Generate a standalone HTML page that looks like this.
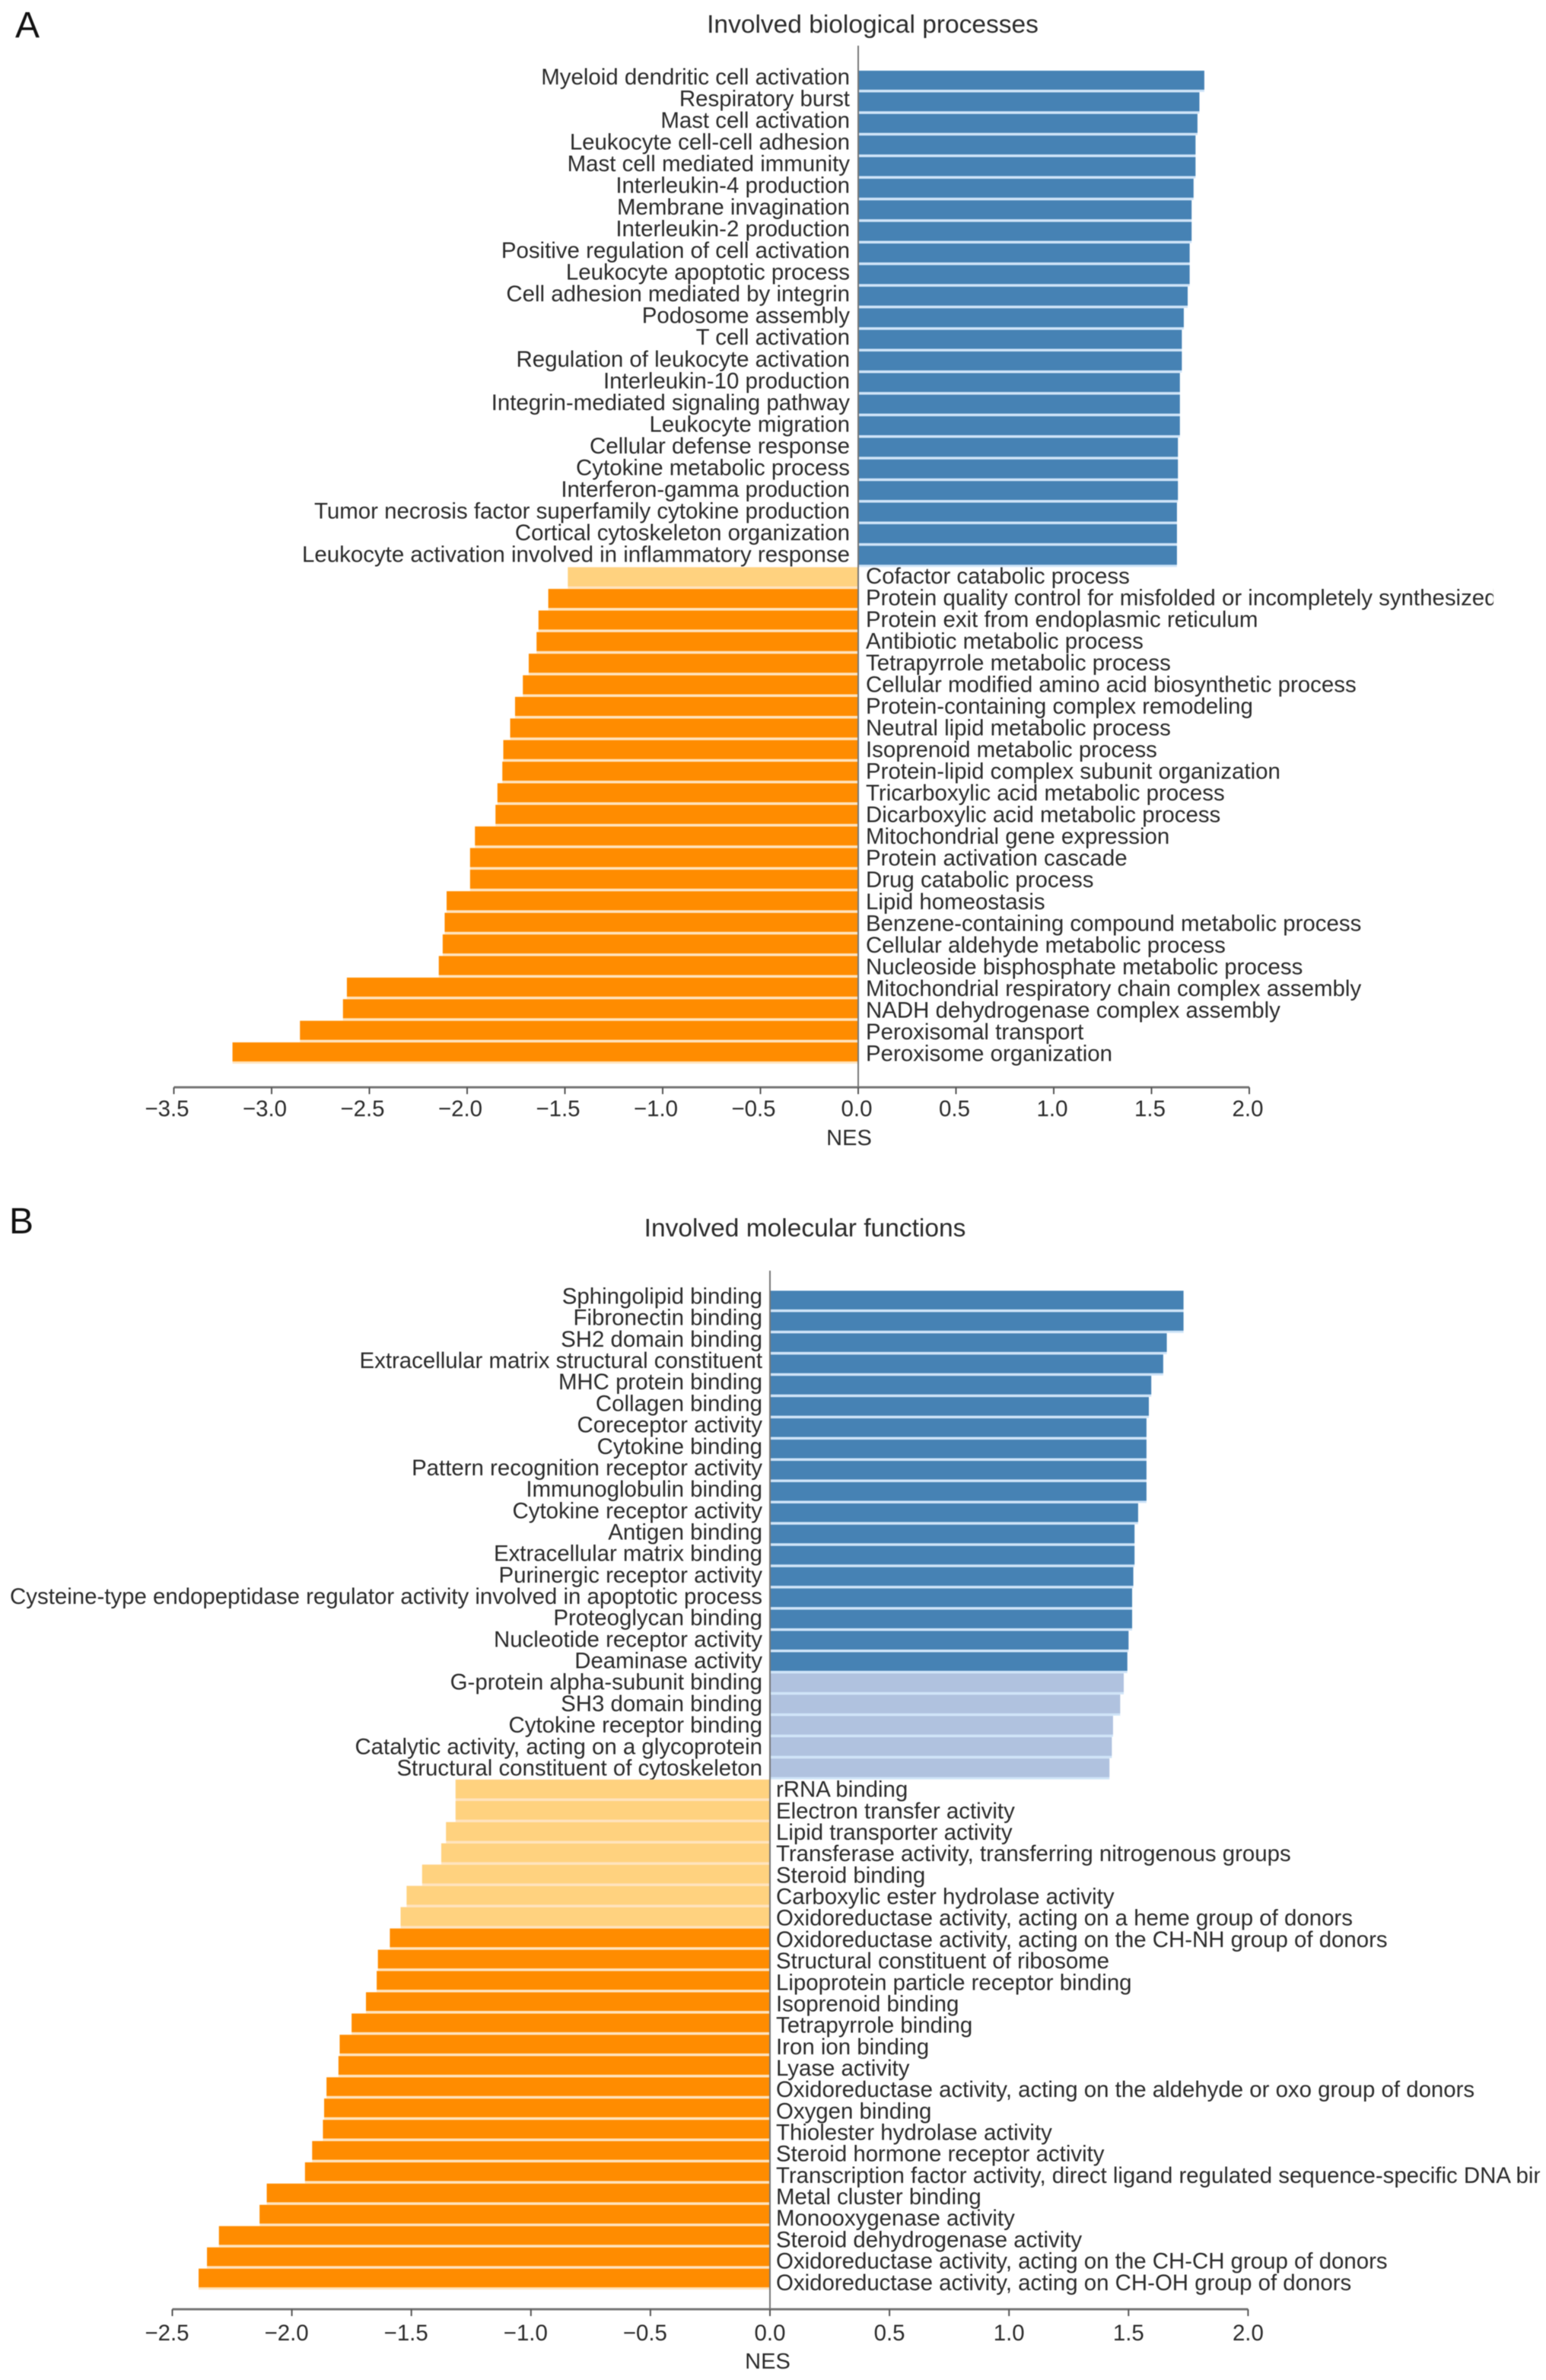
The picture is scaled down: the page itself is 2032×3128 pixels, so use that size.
<!DOCTYPE html>
<html lang="en">
<head>
<meta charset="utf-8">
<title>Involved biological processes and molecular functions</title>
<style>
html,body{margin:0;padding:0;background:#fff;width:2032px;height:3128px;overflow:hidden}
svg{display:block;filter:blur(0.6px)}
text{font-family:"Liberation Sans",Arial,sans-serif;fill:#2b2b2b}
</style>
</head>
<body>
<svg id="figure" xmlns="http://www.w3.org/2000/svg" width="2032" height="3128" viewBox="0 0 2032 3128">
<defs>
<clipPath id="clip-a"><rect x="0" y="0" width="1963" height="1560"/></clipPath>
<clipPath id="clip-b"><rect x="0" y="1560" width="2024" height="1568"/></clipPath>
</defs>
<rect width="2032" height="3128" fill="#fff"/>
<text x="20" y="49" font-size="48" style="fill:#111">A</text>
<text x="12" y="1621" font-size="48" style="fill:#111">B</text>
<text x="1147" y="43" font-size="33.5" text-anchor="middle">Involved biological processes</text>
<text x="1058" y="1625" font-size="33.5" text-anchor="middle">Involved molecular functions</text>
<text x="1116" y="1505" font-size="29" text-anchor="middle">NES</text>
<text x="1009" y="3113" font-size="29" text-anchor="middle">NES</text>
<g id="panel-a" clip-path="url(#clip-a)"></g>
<g id="panel-b" clip-path="url(#clip-b)"></g>
</svg>
<script>
const categoriesA = ["Myeloid dendritic cell activation","Respiratory burst","Mast cell activation","Leukocyte cell-cell adhesion","Mast cell mediated immunity","Interleukin-4 production","Membrane invagination","Interleukin-2 production","Positive regulation of cell activation","Leukocyte apoptotic process","Cell adhesion mediated by integrin","Podosome assembly","T cell activation","Regulation of leukocyte activation","Interleukin-10 production","Integrin-mediated signaling pathway","Leukocyte migration","Cellular defense response","Cytokine metabolic process","Interferon-gamma production","Tumor necrosis factor superfamily cytokine production","Cortical cytoskeleton organization","Leukocyte activation involved in inflammatory response","Cofactor catabolic process","Protein quality control for misfolded or incompletely synthesized protein","Protein exit from endoplasmic reticulum","Antibiotic metabolic process","Tetrapyrrole metabolic process","Cellular modified amino acid biosynthetic process","Protein-containing complex remodeling","Neutral lipid metabolic process","Isoprenoid metabolic process","Protein-lipid complex subunit organization","Tricarboxylic acid metabolic process","Dicarboxylic acid metabolic process","Mitochondrial gene expression","Protein activation cascade","Drug catabolic process","Lipid homeostasis","Benzene-containing compound metabolic process","Cellular aldehyde metabolic process","Nucleoside bisphosphate metabolic process","Mitochondrial respiratory chain complex assembly","NADH dehydrogenase complex assembly","Peroxisomal transport","Peroxisome organization"];
const valuesA = [1.77,1.745,1.735,1.725,1.725,1.715,1.705,1.705,1.695,1.695,1.685,1.665,1.655,1.655,1.645,1.645,1.645,1.635,1.635,1.635,1.63,1.63,1.63,-1.485,-1.585,-1.635,-1.645,-1.685,-1.715,-1.755,-1.78,-1.815,-1.82,-1.845,-1.855,-1.96,-1.985,-1.985,-2.105,-2.115,-2.125,-2.145,-2.615,-2.635,-2.855,-3.20];
const fadedA = [0,0,0,0,0,0,0,0,0,0,0,0,0,0,0,0,0,0,0,0,0,0,0,1,0,0,0,0,0,0,0,0,0,0,0,0,0,0,0,0,0,0,0,0,0,0];
const ticksA = [-3.5,-3,-2.5,-2,-1.5,-1,-0.5,0,0.5,1,1.5,2];

const categoriesB = ["Sphingolipid binding","Fibronectin binding","SH2 domain binding","Extracellular matrix structural constituent","MHC protein binding","Collagen binding","Coreceptor activity","Cytokine binding","Pattern recognition receptor activity","Immunoglobulin binding","Cytokine receptor activity","Antigen binding","Extracellular matrix binding","Purinergic receptor activity","Cysteine-type endopeptidase regulator activity involved in apoptotic process","Proteoglycan binding","Nucleotide receptor activity","Deaminase activity","G-protein alpha-subunit binding","SH3 domain binding","Cytokine receptor binding","Catalytic activity, acting on a glycoprotein","Structural constituent of cytoskeleton","rRNA binding","Electron transfer activity","Lipid transporter activity","Transferase activity, transferring nitrogenous groups","Steroid binding","Carboxylic ester hydrolase activity","Oxidoreductase activity, acting on a heme group of donors","Oxidoreductase activity, acting on the CH-NH group of donors","Structural constituent of ribosome","Lipoprotein particle receptor binding","Isoprenoid binding","Tetrapyrrole binding","Iron ion binding","Lyase activity","Oxidoreductase activity, acting on the aldehyde or oxo group of donors","Oxygen binding","Thiolester hydrolase activity","Steroid hormone receptor activity","Transcription factor activity, direct ligand regulated sequence-specific DNA binding","Metal cluster binding","Monooxygenase activity","Steroid dehydrogenase activity","Oxidoreductase activity, acting on the CH-CH group of donors","Oxidoreductase activity, acting on CH-OH group of donors"];
const valuesB = [1.73,1.73,1.66,1.645,1.595,1.585,1.575,1.575,1.575,1.575,1.54,1.525,1.525,1.52,1.515,1.515,1.50,1.495,1.48,1.465,1.435,1.43,1.42,-1.315,-1.315,-1.355,-1.375,-1.455,-1.52,-1.545,-1.59,-1.64,-1.645,-1.69,-1.75,-1.80,-1.805,-1.855,-1.865,-1.87,-1.915,-1.945,-2.105,-2.135,-2.305,-2.355,-2.39];
const fadedB = [0,0,0,0,0,0,0,0,0,0,0,0,0,0,0,0,0,0,1,1,1,1,1,1,1,1,1,1,1,1,0,0,0,0,0,0,0,0,0,0,0,0,0,0,0,0,0];
const ticksB = [-2.5,-2,-1.5,-1,-0.5,0,0.5,1,1.5,2];

const SVGNS = "http://www.w3.org/2000/svg";

function make(tag, attrs, parent) {
  const el = document.createElementNS(SVGNS, tag);
  for (const k in attrs) el.setAttribute(k, attrs[k]);
  parent.appendChild(el);
  return el;
}

function barColor(value, faded) {
  if (value >= 0) return faded ? "#b0c2df" : "#4682b4";
  return faded ? "#ffd27f" : "#ff8c00";
}

function gapColor(value) {
  return value >= 0 ? "#cfe4f8" : "#ffe3bd";
}

function drawPanel(groupId, panelKey, categories, values, faded, ticks, cfg) {
  const g = document.getElementById(groupId);
  const xScale = v => cfg.zeroX + v * cfg.pxPerUnit;
  const barY = i => cfg.barTop + i * cfg.barPitch;
  const labelY = i => cfg.labelTop + i * cfg.labelPitch;

  values.forEach((v, i) => {
    const x0 = Math.min(xScale(0), xScale(v));
    const w = Math.abs(xScale(v) - xScale(0));
    const halo = make("rect", {x: x0, y: barY(i), width: w, height: cfg.barPitch, fill: gapColor(v)}, g);
    
    
    const bar = make("rect", {x: x0, y: barY(i) + 0.5, width: w, height: cfg.barPitch - 3.5, fill: barColor(v, faded[i])}, g);
    
    
    const label = make("text", {
      x: v >= 0 ? xScale(0) - cfg.labelGapLeft : xScale(0) + cfg.labelGapRight,
      y: labelY(i),
      "font-size": cfg.labelSize,
      "text-anchor": v >= 0 ? "end" : "start"
    }, g);
    label.textContent = categories[i];
    
    
  });

  const zero = make("line", {x1: xScale(0), x2: xScale(0), y1: cfg.zeroTop, y2: cfg.axisY, stroke: "#777", "stroke-width": 2}, g);
  
  

  const axis = make("line", {x1: xScale(ticks[0]), x2: xScale(ticks[ticks.length - 1]), y1: cfg.axisY, y2: cfg.axisY, stroke: "#777", "stroke-width": 3}, g);
  
  

  ticks.forEach((t, i) => {
    const tick = make("line", {x1: xScale(t), x2: xScale(t), y1: cfg.axisY, y2: cfg.axisY + 9, stroke: "#555", "stroke-width": 2}, g);
    
    
    const tl = make("text", {x: xScale(t) - (t < 0 ? 7 : 0) - cfg.tickShift, y: cfg.tickLabelY, "font-size": cfg.labelSize, "text-anchor": "middle"}, g);
    tl.textContent = (t < 0 ? "\u2212" : "") + Math.abs(t).toFixed(1);
    
    
  });
}

drawPanel("panel-a", "a", categoriesA, valuesA, fadedA, ticksA, {
  zeroX: 1128, pxPerUnit: 257, barTop: 92.5, barPitch: 28.38,
  labelTop: 111, labelPitch: 28.52, labelGapLeft: 11, labelGapRight: 10, labelSize: 29.45,
  zeroTop: 60, axisY: 1429, tickLabelY: 1467, tickShift: 2
});

drawPanel("panel-b", "b", categoriesB, valuesB, fadedB, ticksB, {
  zeroX: 1012, pxPerUnit: 314.2, barTop: 1696, barPitch: 27.94,
  labelTop: 1713.5, labelPitch: 28.18, labelGapLeft: 10, labelGapRight: 8, labelSize: 29.42,
  zeroTop: 1670, axisY: 3035, tickLabelY: 3076, tickShift: 0
});
</script>
</body>
</html>
